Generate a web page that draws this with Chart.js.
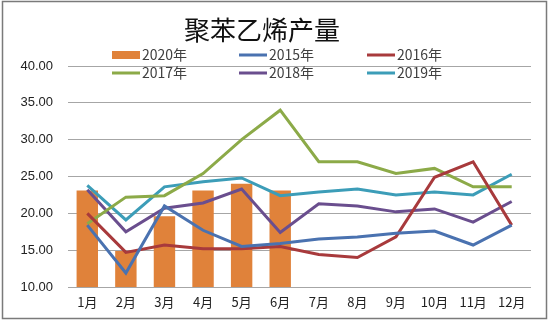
<!DOCTYPE html>
<html>
<head>
<meta charset="utf-8">
<script src="https://cdn.jsdelivr.net/npm/chart.js@4.4.1/dist/chart.umd.min.js"></script>
<style>
html,body{margin:0;padding:0;background:#fff;}
#wrap{position:relative;width:550px;height:322px;}
</style>
</head>
<body>
<div id="wrap"><canvas id="c" width="550" height="322"></canvas></div>
<script>
const titleText = '聚苯乙烯产量';
const categories = ['1月','2月','3月','4月','5月','6月','7月','8月','9月','10月','11月','12月'];
const yTicks = [10, 15, 20, 25, 30, 35, 40];
const s2020 = [23.1, 14.9, 19.6, 23.1, 24.0, 23.1, null, null, null, null, null, null];
const s2015 = [18.4, 11.9, 21.0, 17.7, 15.5, 15.9, 16.5, 16.8, 17.3, 17.6, 15.7, 18.4];
const s2016 = [20.0, 14.7, 15.7, 15.2, 15.2, 15.5, 14.4, 14.0, 16.8, 24.9, 27.0, 18.4];
const s2017 = [18.6, 22.2, 22.4, 25.4, 30.0, 34.0, 27.0, 27.0, 25.4, 26.1, 23.6, 23.6];
const s2018 = [23.2, 17.5, 20.7, 21.4, 23.3, 17.4, 21.3, 21.0, 20.2, 20.6, 18.8, 21.6];
const s2019 = [23.8, 19.1, 23.6, 24.3, 24.8, 22.4, 22.9, 23.3, 22.5, 22.9, 22.5, 25.3];

const CJK = '"Noto Sans CJK SC", "Noto Sans", sans-serif';

function line(label, data, color){
  return {type:'line', label, data, borderColor:color, backgroundColor:color,
    borderWidth:3, pointRadius:0, pointHoverRadius:0, tension:0, fill:false, order:1};
}

const datasets = [
  {type:'bar', label:'2020年', data:s2020, backgroundColor:'#E0823A', borderWidth:0,
   barPercentage:0.555, categoryPercentage:1.0, order:2},
  line('2015年', s2015, '#4A72B0'),
  line('2016年', s2016, '#A83A3C'),
  line('2017年', s2017, '#8CAA48'),
  line('2018年', s2018, '#6A4E8E'),
  line('2019年', s2019, '#3C9DB8')
];

const decor = {
  id:'decor',
  afterDraw(chart){
    const ctx = chart.ctx;
    ctx.save();
    // frame
    ctx.strokeStyle = '#7a7a7a';
    ctx.lineWidth = 1.5;
    ctx.strokeRect(2.5, 1.5, 544, 317);
    // title
    ctx.fillStyle = '#111';
    ctx.font = '26px ' + CJK;
    ctx.textAlign = 'center';
    ctx.textBaseline = 'middle';
    ctx.fillText(titleText, 262, 30);
    // legend
    const cols = [112, 239, 367];
    const rows = [55, 73];
    ctx.font = '14px ' + CJK;
    ctx.textAlign = 'left';
    chart.data.datasets.forEach((ds, i) => {
      const x = cols[i % 3], y = rows[Math.floor(i / 3)];
      ctx.fillStyle = ds.backgroundColor;
      if (ds.type === 'bar') {
        ctx.fillRect(x, y - 4, 28, 8);
      } else {
        ctx.fillRect(x, y - 1.5, 28, 3);
      }
      ctx.fillStyle = '#404040';
      ctx.fillText(ds.label, x + 30, y);
    });
    ctx.restore();
  }
};

new Chart(document.getElementById('c'), {
  data: {labels: categories, datasets},
  options: {
    responsive:false,
    animation:false,
    layout:{padding:{top:66, right:19, left:0, bottom:0}},
    plugins:{legend:{display:false}, title:{display:false}, tooltip:{enabled:false}},
    scales:{
      x:{
        grid:{display:false, drawTicks:false},
        border:{display:false},
        ticks:{color:'#222', font:{family:CJK, size:13}, padding:7, maxRotation:0, autoSkip:false},
        afterFit(s){ s.height = 35; }
      },
      y:{
        min:10, max:40,
        afterBuildTicks(s){ s.ticks = yTicks.map(v => ({value:v})); },
        grid:{color:'#a6a6a6', lineWidth:1, drawTicks:false},
        border:{display:false},
        ticks:{color:'#222', font:{family:'"Liberation Sans", Arial, sans-serif', size:13}, padding:15,
          callback:v => Number(v).toFixed(2)},
        afterFit(s){ s.width = 68; }
      }
    }
  },
  plugins:[decor]
});
</script>
</body>
</html>
